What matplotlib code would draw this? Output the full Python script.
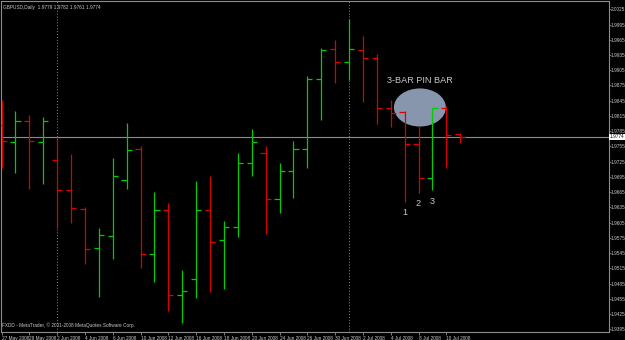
import matplotlib
matplotlib.use('agg')
from matplotlib import pyplot as plt
from matplotlib.patches import Ellipse
import numpy as np
import pandas as pd

# GBPUSD daily bars, 27 May 2008 - 11 Jul 2008
dates = pd.bdate_range('2008-05-27', periods=34)
opens = [1.9797, 1.9764, 1.9806, 1.9764, 1.9728, 1.9669, 1.9631, 1.9556, 1.9578, 1.9689,
         1.9749, 1.9544, 1.9629, 1.9463, 1.9494, 1.9630, 1.9570, 1.9596, 1.9722, 1.9743,
         1.9652, 1.9707, 1.9749, 1.9888, 1.9946, 1.9921, 1.9944, 1.9930, 1.9830, 1.9823,
         1.9760, 1.9692, 1.9830, 1.9779]
highs = [1.9846, 1.9825, 1.9817, 1.9812, 1.9774, 1.9740, 1.9636, 1.9594, 1.9733, 1.9801,
         1.9756, 1.9665, 1.9643, 1.9511, 1.9686, 1.9696, 1.9609, 1.9743, 1.9789, 1.9755,
         1.9722, 1.9766, 1.9894, 1.9949, 1.9965, 2.0006, 1.9972, 1.9936, 1.9846, 1.9825,
         1.9795, 1.9831, 1.9835, 1.9782]
lows = [1.9713, 1.9702, 1.9671, 1.9682, 1.9594, 1.9604, 1.9524, 1.9459, 1.9534, 1.9671,
        1.9516, 1.9489, 1.9432, 1.9407, 1.9456, 1.9468, 1.9475, 1.9576, 1.9697, 1.9583,
        1.9623, 1.9654, 1.9712, 1.9807, 1.9879, 1.9886, 1.9843, 1.9799, 1.9794, 1.9646,
        1.9664, 1.9669, 1.9712, 1.9761]
closes = [1.9765, 1.9806, 1.9765, 1.9806, 1.9669, 1.9633, 1.9554, 1.9580, 1.9696, 1.9748,
          1.9543, 1.9630, 1.9462, 1.9470, 1.9630, 1.9566, 1.9596, 1.9722, 1.9763, 1.9652,
          1.9707, 1.9749, 1.9888, 1.9945, 1.9921, 1.9947, 1.9930, 1.9831, 1.9821, 1.9759,
          1.9693, 1.9830, 1.9778, 1.9774]
price_levels = np.round(np.arange(2.0025, 1.9390, -0.0030), 4)
separators = [4, 25]          # period separators (month starts)
pin_bars = [29, 30, 31]       # the 3-bar pin bar
pin_names = ['1', '2', '3']

UP = '#00cc00'
DOWN = '#dd0000'
GREY = '#8c8c8c'
TEXT = '#c8c8c8'
FONT = ['Liberation Sans', 'DejaVu Sans']
SMALL = 3.4

plt.rcParams['font.family'] = FONT

fig = plt.figure(figsize=(6.25, 3.4), dpi=100, facecolor='black')
ax = fig.add_axes([1 / 625, 8 / 340, 607.5 / 625, 331 / 340], facecolor='black')

x = np.arange(len(dates))
o, h, l, c = map(np.asarray, (opens, highs, lows, closes))
colors = np.where(c > o, UP, DOWN)
tick = 0.37

# annotation ellipse sits behind the bars
ax.add_patch(Ellipse((30.1, 1.98317), width=3.74, height=0.0075,
                     facecolor='#8796ac', edgecolor='none', zorder=1))

ax.vlines(x, l, h, colors=colors, linewidth=0.9, zorder=3)
ax.hlines(o, x - tick, x, colors=colors, linewidth=0.9, zorder=3)
ax.hlines(c, x, x + tick, colors=colors, linewidth=0.9, zorder=3)

for s in separators:
    ax.axvline(s, color=GREY, linewidth=0.7, linestyle=(0, (1, 2)), zorder=2)
ax.axhline(closes[-1], color=GREY, linewidth=0.8, zorder=2)

ax.set_xlim(-0.036, -0.036 + 607.5 / 13.9)
ax.set_ylim(1.93897, 2.00413)

for sp in ax.spines.values():
    sp.set_color(GREY)
    sp.set_linewidth(0.8)

ax.yaxis.tick_right()
ax.set_yticks(price_levels)
ax.set_yticklabels([f'{p:.4f}' for p in price_levels])
ax.tick_params(axis='y', colors=GREY, labelcolor=TEXT, length=1.2, width=0.6,
               pad=0.6, labelsize=SMALL)

ax.set_xticks(x[::2])
ax.set_xticklabels([f'{d.day} {d.strftime("%b %Y")}' for d in dates[::2]])
ax.tick_params(axis='x', colors=GREY, labelcolor=TEXT, length=2, width=0.6,
               pad=0.8, labelsize=SMALL)
for lab in ax.get_xticklabels():
    lab.set_horizontalalignment('left')

# current price marker on the price scale
ax.text(1.002, closes[-1], f'{closes[-1]:.4f}', transform=ax.get_yaxis_transform(),
        ha='left', va='center', fontsize=SMALL, color='black',
        bbox=dict(boxstyle='square,pad=0.15', facecolor='white', edgecolor='none'),
        clip_on=False, zorder=6)

header = f'GBPUSD,Daily  {opens[-1]:.4f} {highs[-1]:.4f} {lows[-1]:.4f} {closes[-1]:.4f}'
ax.text(0.004, 0.988, header, transform=ax.transAxes, ha='left', va='top',
        fontsize=SMALL, color=TEXT, zorder=5)
ax.text(0.002, 0.012, 'FXDD - MetaTrader, \u00a9 2001-2008 MetaQuotes Software Corp.',
        transform=ax.transAxes, ha='left', va='bottom', fontsize=SMALL,
        color=TEXT, zorder=5)

ax.annotate('3-BAR PIN BAR', xy=(30.1, 1.98317 + 0.00375), xytext=(0, 2.5),
            textcoords='offset points', ha='center', va='bottom',
            fontsize=6.6, color=TEXT, zorder=5)
for i, name in zip(pin_bars, pin_names):
    ax.annotate(name, xy=(i, lows[i]), xytext=(0, -8), textcoords='offset points',
                ha='center', va='center', fontsize=6.6, color=TEXT, zorder=5)

fig.savefig('out.png', dpi=100, facecolor='black')
